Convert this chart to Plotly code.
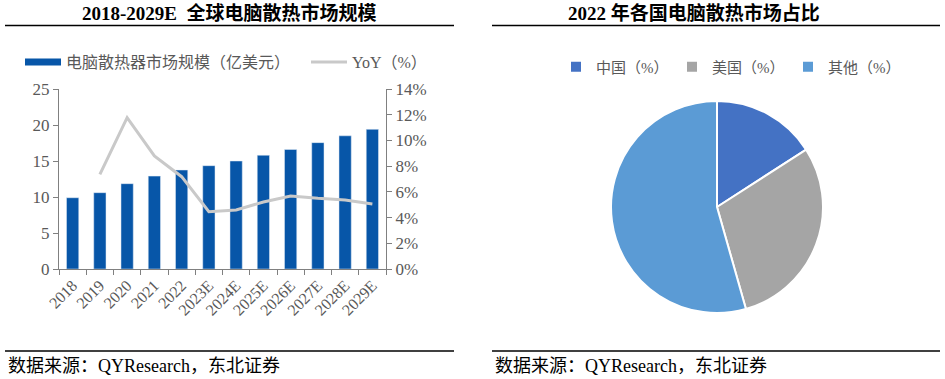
import plotly.graph_objects as go

# ---------------- data ----------------
years = ["2018", "2019", "2020", "2021", "2022", "2023E", "2024E", "2025E",
         "2026E", "2027E", "2028E", "2029E"]
market_size = [9.9, 10.6, 11.85, 12.9, 13.75, 14.35, 15.0, 15.8, 16.6, 17.55, 18.5, 19.4]
yoy = [None, 0.0736, 0.1177, 0.0879, 0.0718, 0.0446, 0.0459, 0.0521, 0.0568, 0.055, 0.0537, 0.0506]

countries = ["中国（%）", "美国（%）", "其他（%）"]
shares = [15.9, 29.7, 54.4]

left_title = "2018-2029E  全球电脑散热市场规模"
right_title = "2022 年各国电脑散热市场占比"
source = "数据来源：QYResearch，东北证券"

# ---------------- style ----------------
W, H = 945, 379
FONT = "Liberation Serif, 'Noto Sans CJK SC', serif"
TXT = "#595959"
AX = "#808080"
BAR = "#0756A8"
LINE = "#C9C9C9"
PIE_COLORS = ["#4472C4", "#A5A5A5", "#5B9BD5"]


def px(x):
    return x / W


def py(y):
    return 1 - y / H


fig = go.Figure()

fig.add_trace(go.Bar(
    x=years, y=market_size, marker_color=BAR, width=0.45,
    name="电脑散热器市场规模（亿美元）", showlegend=False, legend="legend",
    xaxis="x", yaxis="y",
))
# legend proxy for the bar (wide flat rectangle)
fig.add_trace(go.Scatter(
    x=[None], y=[None], mode="lines", line=dict(color=BAR, width=7),
    name="电脑散热器市场规模（亿美元）", legend="legend", xaxis="x", yaxis="y",
))
fig.add_trace(go.Scatter(
    x=years, y=yoy, mode="lines", line=dict(color=LINE, width=3),
    name="YoY（%）", legend="legend", xaxis="x", yaxis="y2",
))

fig.add_trace(go.Pie(
    labels=countries, values=shares, sort=False, direction="clockwise", rotation=0,
    marker=dict(colors=PIE_COLORS, line=dict(color="white", width=2)),
    textinfo="none", hoverinfo="label+percent",
    domain=dict(x=[px(610), px(824)], y=[py(313), py(101)]),
    legend="legend2",
))

axis_font = dict(family=FONT, size=17, color=TXT)

fig.update_layout(
    width=W, height=H,
    margin=dict(l=0, r=0, t=0, b=0, autoexpand=False),
    paper_bgcolor="white", plot_bgcolor="white",
    font=dict(family=FONT, color=TXT),
    showlegend=True,
    xaxis=dict(
        domain=[px(59), px(386)], type="category",
        showline=True, linecolor=AX, linewidth=1,
        ticks="outside", tickson="boundaries", ticklen=5, tickcolor=AX,
        tickangle=-45, tickfont=dict(family=FONT, size=16, color=TXT),
        showgrid=False, zeroline=False, anchor="y", automargin=False,
    ),
    yaxis=dict(
        domain=[py(269), py(89)], range=[0, 25], dtick=5,
        showline=True, linecolor=AX, linewidth=1,
        ticks="outside", ticklen=5, tickcolor=AX, tickfont=axis_font,
        showgrid=False, zeroline=False, anchor="x", automargin=False,
    ),
    yaxis2=dict(
        overlaying="y", side="right", range=[0, 0.14], dtick=0.02, tickformat=".0%",
        showline=True, linecolor=AX, linewidth=1,
        ticks="outside", ticklen=5, tickcolor=AX, tickfont=axis_font,
        showgrid=False, zeroline=False, anchor="x", automargin=False,
    ),
    legend=dict(
        orientation="h", x=px(20), y=py(62), xanchor="left", yanchor="middle",
        font=dict(family=FONT, size=16, color=TXT), bgcolor="rgba(0,0,0,0)",
        itemwidth=36, entrywidth=235, entrywidthmode="pixels",
        traceorder="normal",
    ),
    legend2=dict(
        orientation="h", x=px(556), y=py(67), xanchor="left", yanchor="middle",
        font=dict(family=FONT, size=15, color=TXT), bgcolor="rgba(0,0,0,0)",
        itemwidth=30, entrywidth=71, entrywidthmode="pixels",
        traceorder="normal",
    ),
)

# titles, rules and sources
for cx, text in [(229, left_title), (694, right_title)]:
    fig.add_annotation(x=px(cx), y=py(13), xref="paper", yref="paper",
                       text="<b>" + text + "</b>", showarrow=False,
                       xanchor="center", yanchor="middle",
                       font=dict(family=FONT, size=19, color="black"))

for x0, x1 in [(5, 454), (492, 940)]:
    for yy in (25.5, 351):
        fig.add_shape(type="line", xref="paper", yref="paper",
                      x0=px(x0), x1=px(x1), y0=py(yy), y1=py(yy),
                      line=dict(color="black", width=1.5))

for x0 in (6, 493):
    fig.add_annotation(x=px(x0), y=py(366), xref="paper", yref="paper",
                       text=source, showarrow=False, xanchor="left", yanchor="middle",
                       font=dict(family=FONT, size=18, color="black"))

fig.write_html(
    "out.html",
    config={"displayModeBar": False},
    post_script="document.body.style.margin='0';document.body.style.overflow='hidden';",
)
